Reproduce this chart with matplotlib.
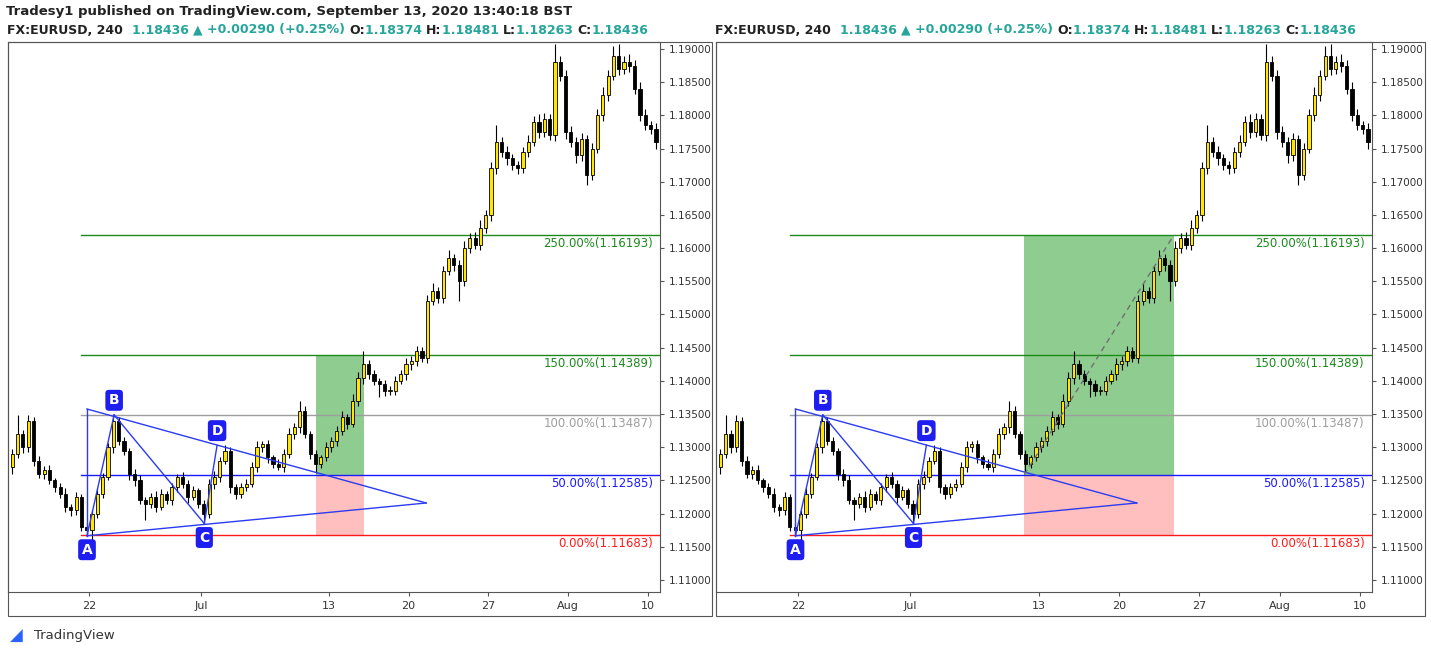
import matplotlib
matplotlib.use("Agg")
import matplotlib.pyplot as plt
from matplotlib.patches import Rectangle

# 240-minute candles, approximated to 3 per trading day (day 0 = Jun 15)
CLOSES = [
    1.1290, 1.1320, 1.1300, 1.1340, 1.1280, 1.1260, 1.1265, 1.1250, 1.1240,
    1.1230, 1.1210, 1.1205, 1.1225, 1.1180, 1.1175, 1.1200, 1.1230, 1.1255,
    1.1300, 1.1340, 1.1310, 1.1295, 1.1260, 1.1250, 1.1220, 1.1215, 1.1225,
    1.1210, 1.1230, 1.1220, 1.1240, 1.1255, 1.1245, 1.1225, 1.1235, 1.1215,
    1.1200, 1.1245, 1.1255, 1.1280, 1.1295, 1.1240, 1.1230, 1.1240, 1.1245,
    1.1270, 1.1300, 1.1305, 1.1285, 1.1275, 1.1270, 1.1290, 1.1320, 1.1330,
    1.1355, 1.1320, 1.1290, 1.1275, 1.1285, 1.1300, 1.1310, 1.1325, 1.1345,
    1.1335, 1.1370, 1.1405, 1.1425, 1.1410, 1.1400, 1.1395, 1.1385, 1.1385,
    1.1400, 1.1410, 1.1425, 1.1430, 1.1445, 1.1435, 1.1520, 1.1535, 1.1525,
    1.1565, 1.1585, 1.1575, 1.1550, 1.1600, 1.1615, 1.1605, 1.1630, 1.1650,
    1.1720, 1.1760, 1.1745, 1.1735, 1.1725, 1.1720, 1.1745, 1.1760, 1.1790,
    1.1775, 1.1795, 1.1770, 1.1880, 1.1860, 1.1775, 1.1760, 1.1740, 1.1765,
    1.1710, 1.1750, 1.1800, 1.1830, 1.1860, 1.1890, 1.1870, 1.1880, 1.1875,
    1.1840, 1.1800, 1.1785, 1.1780, 1.1760, 1.1740,
]
FIRST_OPEN = 1.1270
# wick extensions in pips beyond the candle body
WICK_HI = [
    8, 29, 6, 9, 5, 7, 6, 8, 4, 6, 9, 5, 7, 4, 6, 5, 8, 6,
    7, 9, 5, 6, 4, 7, 8, 5, 6, 9, 7, 4, 6, 5, 8, 5, 6, 4,
    5, 7, 9, 6, 8, 5, 4, 6, 7, 8, 10, 5, 6, 4, 7, 8, 9, 6,
    15, 7, 5, 6, 4, 8, 6, 7, 9, 5, 10, 8, 20, 6, 7, 5, 6, 8,
    7, 6, 9, 8, 7, 6, 10, 12, 6, 8, 12, 6, 7, 10, 8, 9, 12, 7,
    10, 25, 8, 9, 7, 6, 8, 10, 9, 12, 8, 7, 28, 10, 8, 9, 7, 8,
    6, 8, 10, 12, 9, 15, 18, 10, 12, 8, 10, 9, 7, 8, 6,
]
WICK_LO = [
    10, 6, 8, 7, 9, 6, 8, 5, 7, 6, 8, 9, 7, 6, 7, 33, 6, 7,
    5, 8, 6, 7, 9, 8, 6, 25, 7, 8, 5, 6, 7, 8, 6, 9, 5, 7,
    15, 6, 8, 7, 5, 9, 8, 7, 6, 5, 8, 7, 9, 6, 5, 8, 6, 7,
    8, 6, 7, 14, 6, 5, 7, 8, 6, 7, 5, 8, 9, 7, 6, 20, 8, 6,
    7, 5, 8, 9, 7, 6, 8, 6, 7, 8, 6, 9, 30, 7, 8, 6, 8, 7,
    9, 8, 7, 10, 8, 9, 7, 8, 6, 9, 8, 7, 8, 9, 10, 8, 12, 9,
    15, 8, 7, 9, 8, 7, 9, 8, 10, 8, 9, 7, 8, 10, 9,
]

DATE_TICKS = [5, 12, 20, 25, 30, 35, 40]
DATE_LABELS = ["22", "Jul", "13", "20", "27", "Aug", "10"]
PRICE_TICKS = [1.110 + 0.005 * i for i in range(17)]

FIB_LEVELS = [2.5, 1.5, 1.0, 0.5, 0.0]
FIB_PRICES = [1.16193, 1.14389, 1.13487, 1.12585, 1.11683]
FIB_COLORS = ["#1b8a1b", "#1b8a1b", "#9e9e9e", "#1a1aff", "#ff1a1a"]

# pattern points (day index, price)
PT_A = (4.85, 1.11666)
PT_B = (6.55, 1.13487)
PT_C = (12.2, 1.11850)
PT_D = (13.0, 1.13030)
PT_TOP = (4.85, 1.13576)
PT_TIP = (26.1, 1.12160)

# projection boxes: (x0, x1, top price) per panel
BOX_LEFT = (19.2, 22.2, 1.14389)
BOX_RIGHT = (19.1, 28.4, 1.16193)

TEAL = "#26a69a"


def draw_candles(ax):
    opens = [FIRST_OPEN] + CLOSES[:-1]
    for i, (o, c) in enumerate(zip(opens, CLOSES)):
        x = (i // 3) + (i % 3 + 0.5) / 3
        hi = max(o, c) + WICK_HI[i] * 1e-4
        lo = min(o, c) - WICK_LO[i] * 1e-4
        ax.vlines(x, lo, hi, color="black", lw=0.8, zorder=3)
        up = c >= o
        ax.add_patch(Rectangle((x - 0.1, min(o, c)), 0.2, max(abs(c - o), 0.00008),
                               facecolor="#ffe500" if up else "black",
                               edgecolor="black", lw=0.6, zorder=4))


def draw_pattern(ax):
    blue = "#2b3bf0"
    segs = [(PT_TOP, PT_TIP), (PT_A, PT_TIP), (PT_TOP, PT_A), (PT_A, PT_B),
            (PT_B, PT_C), (PT_C, PT_D)]
    for p, q in segs:
        ax.plot([p[0], q[0]], [p[1], q[1]], color=blue, lw=1, zorder=5)
    for name, (x, y), dy in [("A", PT_A, -0.0021), ("B", PT_B, 0.0022),
                             ("C", PT_C, -0.0021), ("D", PT_D, 0.0022)]:
        ax.text(x, y + dy, name, color="white", fontsize=10, fontweight="bold",
                ha="center", va="center", zorder=7,
                bbox=dict(boxstyle="round,pad=0.25", fc="#1e1ef0", ec="none"))


def draw_panel(ax, box, diagonal):
    ax.set_xlim(-0.1, 40.75)
    ax.set_ylim(1.10819, 1.19105)
    for lvl, price, col in zip(FIB_LEVELS, FIB_PRICES, FIB_COLORS):
        ax.plot([4.5, 40.75], [price, price], color=col, lw=1, zorder=2)
        ax.text(40.3, price - 0.0003, f"{lvl * 100:.2f}%({price:.5f})",
                color=col, fontsize=8.5, ha="right", va="top", zorder=6)
    x0, x1, top = box
    ax.add_patch(Rectangle((x0, FIB_PRICES[3]), x1 - x0, top - FIB_PRICES[3],
                           fc="#8fcc8f", ec="none", zorder=1))
    ax.add_patch(Rectangle((x0, FIB_PRICES[4]), x1 - x0, FIB_PRICES[3] - FIB_PRICES[4],
                           fc="#ffbfbf", ec="none", zorder=1))
    if diagonal:
        ax.plot([x0, x1], [FIB_PRICES[3], top], color="#707070", lw=1,
                ls=(0, (4, 3)), zorder=6)
    draw_candles(ax)
    draw_pattern(ax)
    ax.yaxis.tick_right()
    ax.set_yticks(PRICE_TICKS)
    ax.set_yticklabels([f"{p:.5f}" for p in PRICE_TICKS], fontsize=7.5, color="#333333")
    ax.set_xticks(DATE_TICKS)
    ax.set_xticklabels(DATE_LABELS, fontsize=8, color="#333333")
    ax.tick_params(length=3, color="#555555")
    for s in ax.spines.values():
        s.set_color("#555555")
        s.set_linewidth(0.8)


W, H = 1431, 655
fig = plt.figure(figsize=(W / 100, H / 100), dpi=100)
fig.canvas.draw()
renderer = fig.canvas.get_renderer()
panels = [(8, 660, 712, BOX_LEFT, False), (716, 1372, 1425, BOX_RIGHT, True)]
for left, right, outer, box, diag in panels:
    ax = fig.add_axes([left / W, 1 - 592 / H, (right - left) / W, 550 / H])
    draw_panel(ax, box, diag)
    fig.patches.append(Rectangle((left / W, 1 - 616 / H), (outer - left) / W, 574 / H,
                                 transform=fig.transFigure, fill=False,
                                 ec="#555555", lw=0.8))
    # symbol header, pieced together so values can be coloured
    y = 1 - 30 / H
    parts = [("FX:EURUSD, 240  ", "#222222"), ("1.18436 ", TEAL), ("\u25b2 ", TEAL),
             ("+0.00290 (+0.25%) ", TEAL), ("O:", "#222222"), ("1.18374 ", TEAL),
             ("H:", "#222222"), ("1.18481 ", TEAL), ("L:", "#222222"),
             ("1.18263 ", TEAL), ("C:", "#222222"), ("1.18436", TEAL)]
    x = (left - 1) / W
    for s, col in parts:
        tt = fig.text(x, y, s, color=col, fontsize=9, fontweight="bold", va="center")
        x += tt.get_window_extent(renderer=renderer).width / W

fig.text(6 / W, 1 - 12 / H, "Tradesy1 published on TradingView.com, September 13, 2020 13:40:18 BST",
         fontsize=9.5, fontweight="bold", color="#222222", va="center")
fig.text(34 / W, 1 - 636 / H, "TradingView", fontsize=9.5, color="#333333", va="center")
fig.text(16 / W, 1 - 636 / H, "\u25e2", fontsize=12, color="#2962ff", va="center", ha="center")

fig.savefig("out.png", dpi=100)
